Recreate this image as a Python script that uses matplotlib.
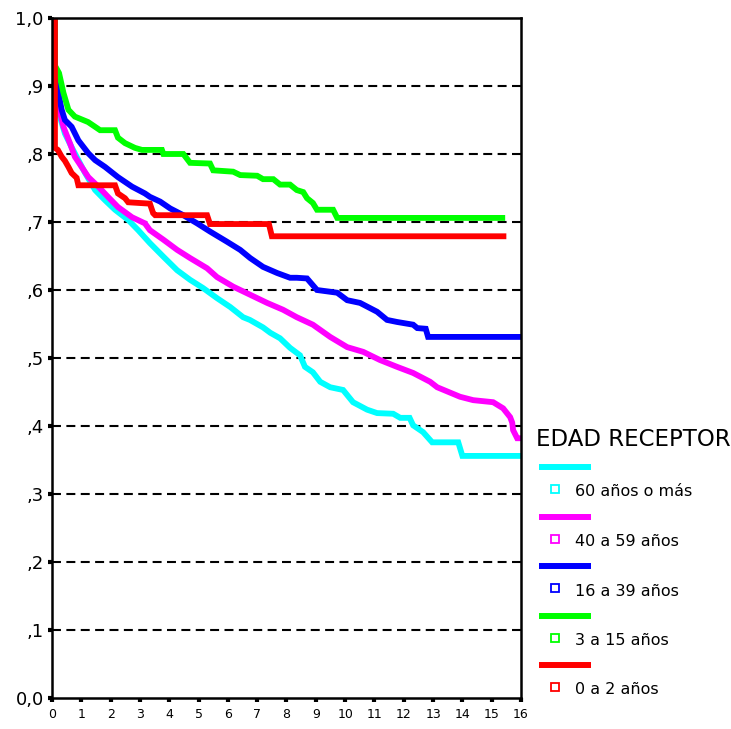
import matplotlib
matplotlib.use('Agg')
import matplotlib.pyplot as plt
from matplotlib.lines import Line2D

# Supervivencia por edad del receptor (trazado)
t_60 = [0, 0.1, 0.1, 0.27, 0.44, 0.67, 0.9, 1.13, 1.47, 1.81, 2.15, 2.6, 2.94, 3.34, 3.8, 4.27, 4.71, 5.15,
        5.63, 6.08, 6.52, 6.75, 7.2, 7.45, 7.78, 8.12, 8.46, 8.63, 8.9, 9.15, 9.49, 9.93, 10.27, 10.75,
        11.09, 11.64, 11.88, 12.2, 12.32, 12.66, 12.97, 13.86, 14.0, 16.0]
s_60 = [1.0, 1.0, 0.90, 0.855, 0.83, 0.81, 0.791, 0.772, 0.747, 0.732, 0.718, 0.703, 0.688, 0.669, 0.649,
        0.629, 0.615, 0.603, 0.588, 0.575, 0.56, 0.556, 0.545, 0.537, 0.529, 0.515, 0.504, 0.487, 0.479,
        0.465, 0.457, 0.453, 0.435, 0.424, 0.419, 0.418, 0.412, 0.412, 0.401, 0.391, 0.376, 0.376, 0.356,
        0.356]

t_40 = [0, 0.1, 0.1, 0.2, 0.39, 0.61, 0.78, 1.01, 1.24, 1.58, 1.91, 2.25, 2.73, 3.17, 3.34, 3.8, 4.27, 4.71,
        5.29, 5.63, 6.18, 6.76, 7.34, 7.88, 8.35, 8.9, 9.49, 10.07, 10.62, 11.19, 11.77, 12.32, 12.9, 13.14,
        13.92, 14.37, 15.05, 15.39, 15.63, 15.7, 15.73, 15.87, 16.0]
s_40 = [1.0, 1.0, 0.90, 0.875, 0.84, 0.816, 0.796, 0.781, 0.766, 0.752, 0.737, 0.722, 0.707, 0.698, 0.688,
        0.674, 0.659, 0.647, 0.632, 0.619, 0.605, 0.593, 0.581, 0.571, 0.56, 0.549, 0.531, 0.516, 0.509,
        0.497, 0.487, 0.478, 0.465, 0.457, 0.443, 0.438, 0.435, 0.426, 0.413, 0.405, 0.394, 0.382, 0.382]

t_16 = [0, 0.1, 0.1, 0.2, 0.33, 0.44, 0.67, 0.9, 1.24, 1.47, 1.81, 2.25, 2.73, 3.17, 3.34, 3.69, 4.03, 4.48,
        4.95, 5.39, 5.97, 6.42, 6.76, 7.2, 7.68, 8.12, 8.35, 8.7, 9.04, 9.73, 10.07, 10.51, 11.09, 11.43,
        11.77, 12.32, 12.46, 12.75, 12.83, 16.0]
s_16 = [1.0, 1.0, 0.91, 0.894, 0.865, 0.85, 0.84, 0.82, 0.801, 0.791, 0.781, 0.766, 0.752, 0.742, 0.737,
        0.73, 0.72, 0.71, 0.698, 0.686, 0.671, 0.659, 0.647, 0.634, 0.625, 0.618, 0.618, 0.617, 0.60,
        0.596, 0.585, 0.581, 0.568, 0.556, 0.553, 0.549, 0.544, 0.543, 0.531, 0.531]

t_3 = [0, 0.1, 0.1, 0.24, 0.39, 0.56, 0.78, 1.23, 1.47, 1.64, 2.15, 2.25, 2.49, 2.83, 3.07, 3.75, 3.8, 4.48,
       4.71, 5.39, 5.5, 6.18, 6.42, 7.0, 7.2, 7.55, 7.78, 8.12, 8.35, 8.57, 8.7, 8.9, 9.04, 9.59, 9.73, 15.46]
s_3 = [1.0, 1.0, 0.93, 0.919, 0.89, 0.865, 0.855, 0.847, 0.84, 0.835, 0.835, 0.824, 0.816, 0.809, 0.806,
       0.806, 0.80, 0.80, 0.787, 0.786, 0.776, 0.774, 0.769, 0.768, 0.763, 0.763, 0.755, 0.755, 0.747,
       0.744, 0.735, 0.728, 0.718, 0.718, 0.706, 0.706]

t_0 = [0, 0.1, 0.1, 0.2, 0.33, 0.44, 0.56, 0.67, 0.84, 0.9, 2.15, 2.25, 2.49, 2.6, 3.34, 3.45, 3.52, 5.29,
       5.39, 7.4, 7.5, 15.5]
s_0 = [1.0, 1.0, 0.809, 0.806, 0.796, 0.79, 0.781, 0.772, 0.765, 0.754, 0.754, 0.742, 0.735, 0.729, 0.727,
       0.713, 0.71, 0.71, 0.697, 0.697, 0.679, 0.679]

labels = ['60 años o más', '40 a 59 años', '16 a 39 años', '3 a 15 años', '0 a 2 años']
colors = ['#00ffff', '#ff00ff', '#0000ff', '#00ff00', '#ff0000']
series = [(t_60, s_60), (t_40, s_40), (t_16, s_16), (t_3, s_3), (t_0, s_0)]

yticks = [0.0, 0.1, 0.2, 0.3, 0.4, 0.5, 0.6, 0.7, 0.8, 0.9, 1.0]
ytick_labels = ['0,0', ',1', ',2', ',3', ',4', ',5', ',6', ',7', ',8', ',9', '1,0']
xticks = list(range(17))

W, H = 731, 729
fig = plt.figure(figsize=(W / 100, H / 100), dpi=100)
ax = fig.add_axes([52 / W, 1 - 698 / H, (521 - 52) / W, (698 - 18) / H])

for y in yticks[1:-1]:
    ax.axhline(y, color='black', lw=1.5, dashes=(4.3, 2.6), zorder=1)

for (t, s), c in zip(series, colors):
    ax.plot(t, s, color=c, lw=4.2, solid_joinstyle='miter', solid_capstyle='butt', zorder=2)

ax.set_xlim(0, 16)
ax.set_ylim(0, 1)
ax.set_xticks(xticks)
ax.set_xticklabels([str(x) for x in xticks], fontsize=9)
ax.set_yticks(yticks)
ax.set_yticklabels(ytick_labels, fontsize=13)
ax.tick_params(direction='out', length=3, width=3, color='black', pad=3)
ax.tick_params(axis='x', pad=4)
for sp in ax.spines.values():
    sp.set_linewidth(1.8)
    sp.set_color('black')
    sp.set_zorder(3)

# leyenda manual
fig.text(536 / W, 1 - 439 / H, 'EDAD RECEPTOR', fontsize=16.5, va='center', ha='left')
for i, (lab, c) in enumerate(zip(labels, colors)):
    ly = 467 + i * 49.5
    fig.add_artist(Line2D([539 / W, 591 / W], [1 - ly / H, 1 - ly / H], color=c, lw=4.3,
                          transform=fig.transFigure, solid_capstyle='butt'))
    fig.add_artist(Line2D([555 / W], [1 - (ly + 22) / H], marker='s', markersize=6, mfc='white',
                          mec=c, mew=1.3, transform=fig.transFigure))
    fig.text(575 / W, 1 - (ly + 25) / H, lab, fontsize=11.5, va='center', ha='left')

fig.savefig('out.png', dpi=100)
